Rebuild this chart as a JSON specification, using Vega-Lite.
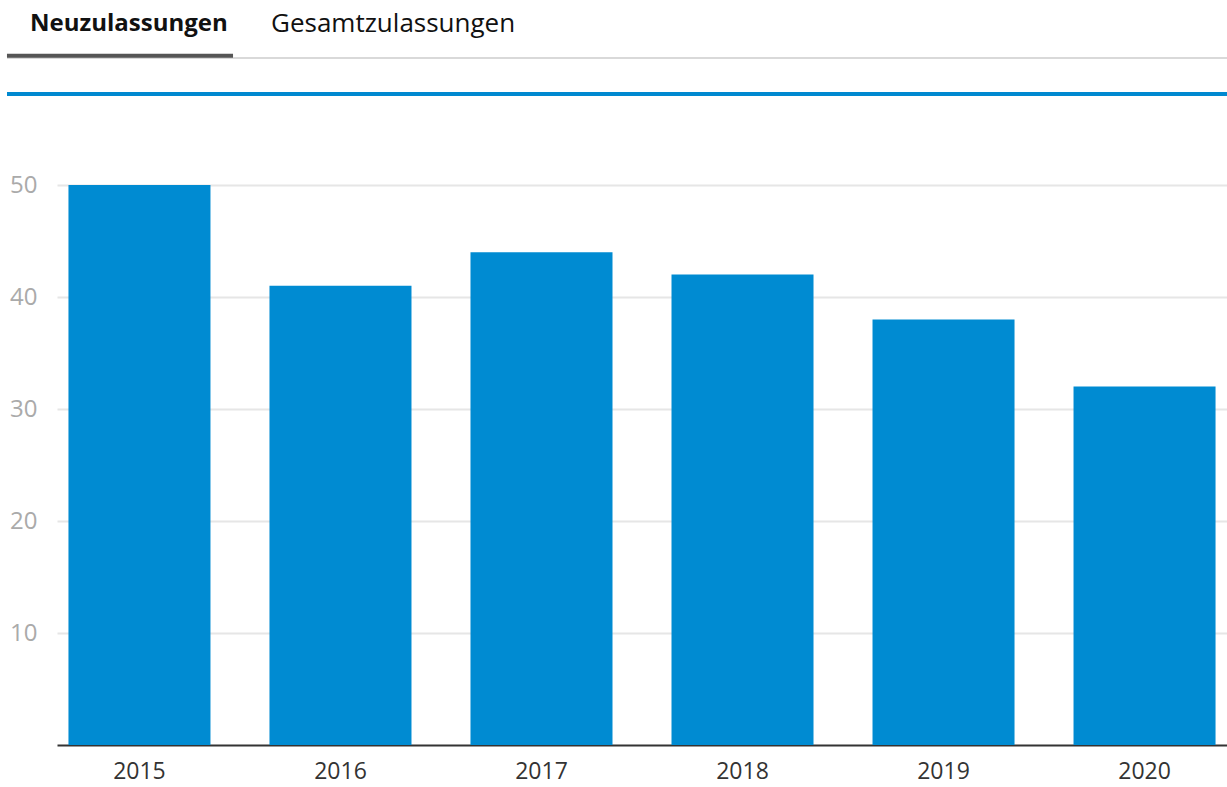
{
  "$schema": "https://vega.github.io/schema/vega-lite/v6.json",
  "background": "white",
  "padding": {"left": 5, "top": 10, "right": 0, "bottom": 0},
  "config": {"view": {"stroke": null}, "font": "Open Sans"},
  "spacing": 77,
  "vconcat": [
    {
      "width": 1170,
      "height": 36,
      "data": {"values": [{"tab": "Neuzulassungen", "active": 1}, {"tab": "Gesamtzulassungen", "active": 0}]},
      "resolve": {"scale": {"x": "independent"}, "axis": {"x": "independent"}},
      "layer": [
        {
          "mark": {"type": "rule", "color": "#d9d9d9", "strokeWidth": 2},
          "encoding": {
            "x": {"datum": 0, "type": "quantitative", "scale": {"domain": [0, 1], "range": [-50, 1170], "nice": false}, "axis": null},
            "x2": {"datum": 1},
            "y": {"datum": 1, "type": "quantitative", "scale": {"domain": [0, 1], "nice": false}, "axis": null}
          }
        },
        {
          "mark": {"type": "rule", "color": "#0089d0", "strokeWidth": 4},
          "encoding": {
            "x": {"datum": 0, "type": "quantitative", "scale": {"domain": [0, 1], "range": [-50, 1170], "nice": false}, "axis": null},
            "x2": {"datum": 1},
            "y": {"datum": 0, "type": "quantitative"}
          }
        },
        {
          "transform": [{"filter": "datum.active == 1"}],
          "mark": {"type": "bar", "color": "#555555", "width": {"band": 0.938}, "xOffset": -7.5},
          "encoding": {
            "x": {
              "field": "tab", "type": "nominal", "sort": null,
              "scale": {"domain": ["Neuzulassungen", "Gesamtzulassungen"], "range": [-50, 914], "paddingInner": 0, "paddingOuter": 1, "align": 0},
              "axis": {
                "orient": "top", "title": null, "domain": false, "ticks": false,
                "labelAngle": 0, "labelLimit": 0,
                "labelAlign": "left", "labelOffset": -97.5, "labelBaseline": "middle", "labelPadding": 35,
                "labelColor": "#111",
                "labelFontSize": {"condition": {"test": "datum.value == 'Neuzulassungen'", "value": 24}, "value": 26},
                "labelFontWeight": {"condition": {"test": "datum.value == 'Neuzulassungen'", "value": "bold"}, "value": "normal"}
              }
            },
            "y": {"datum": 1.12, "type": "quantitative"},
            "y2": {"datum": 1.01}
          }
        }
      ]
    },
    {
      "width": 1170,
      "height": 560,
      "data": {"values": [
        {"year": "2015", "value": 50},
        {"year": "2016", "value": 41},
        {"year": "2017", "value": 44},
        {"year": "2018", "value": 42},
        {"year": "2019", "value": 38},
        {"year": "2020", "value": 32}
      ]},
      "mark": {"type": "bar", "color": "#008bd2"},
      "encoding": {
        "x": {
          "field": "year", "type": "ordinal",
          "scale": {"paddingInner": 0.2935, "paddingOuter": 0.057},
          "axis": {"title": null, "labelAngle": 0, "labelFontSize": 23, "labelColor": "#333", "labelPadding": 15, "ticks": false, "domainColor": "#333", "domainWidth": 2}
        },
        "y": {
          "field": "value", "type": "quantitative",
          "scale": {"domain": [0, 50], "nice": false},
          "axis": {"title": null, "values": [10, 20, 30, 40, 50], "labelFontSize": 24, "labelColor": "#aaaaaa", "labelPadding": 20, "ticks": false, "domain": false, "gridColor": "#e6e6e6", "gridWidth": 2}
        }
      }
    }
  ]
}
